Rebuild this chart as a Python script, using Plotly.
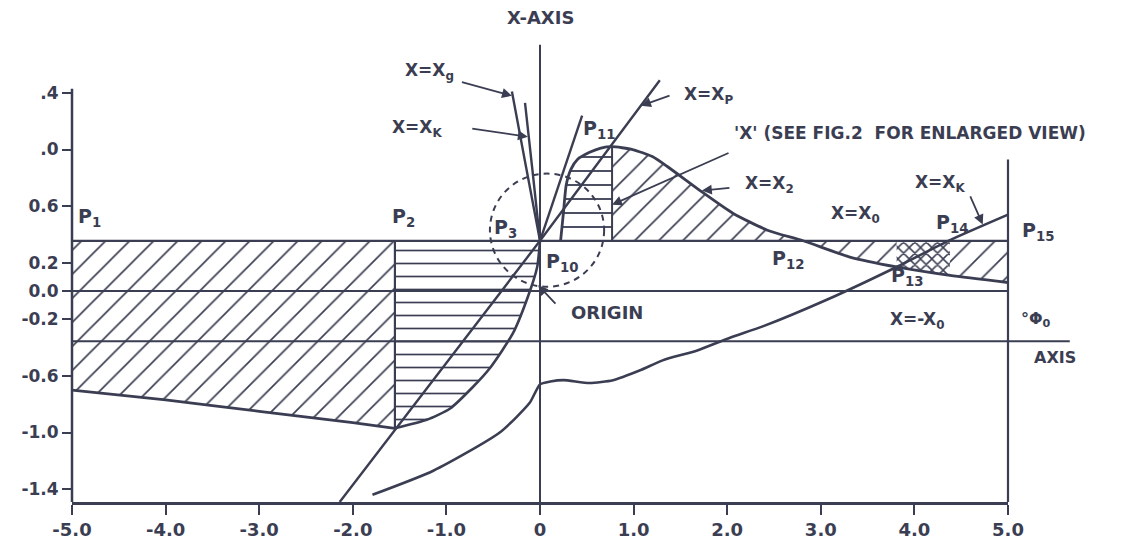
import plotly.graph_objects as go

INK = "#3b3e52"
FONT = "DejaVu Sans"

# ---------------- axes / ticks ----------------
x_ticks = [-5, -4, -3, -2, -1, 0, 1, 2, 3, 4, 5]
x_tick_text = ["-5.0", "-4.0", "-3.0", "-2.0", "-1.0", "0", "1.0", "2.0", "3.0", "4.0", "5.0"]
y_ticks = [1.4, 1.0, 0.6, 0.2, 0.0, -0.2, -0.6, -1.0, -1.4]
y_tick_text = [".4", ".0", "0.6", "0.2", "0.0", "-0.2", "-0.6", "-1.0", "-1.4"]
X_RANGE = [-5.0, 5.0]
Y_RANGE = [-1.491, 1.986]
Y_AXIS_TOP = 1.43
X_AXIS_TOP = 1.74
RIGHT_LINE_TOP = 0.93
X0 = 0.355            # levels X = X0 and X = -X0
MINUS_X0_END = 5.66

# ---------------- key abscissae ----------------
P2_X = -1.55
P11_X = 0.77
P12_X = 2.81
P13_X = 3.81
P14_X = 4.38

# P1 -> P2 lower boundary
a_x = [-5.0, -4.0, -3.0, -2.0, -1.55]
a_y = [-0.70, -0.77, -0.85, -0.93, -0.97]

# U curve from P2 (bottom) to P3
u_x = [-1.55, -1.21, -0.96, -0.72, -0.53, -0.29, -0.14, -0.03, 0.0]
u_y = [-0.97, -0.91, -0.83, -0.68, -0.54, -0.30, -0.06, 0.17, 0.355]
# X = Xg and X = Xk
xg_x = [0.0, -0.15, -0.30]
xg_y = [0.355, 0.88, 1.41]
xk_x = [0.0, -0.08, -0.16]
xk_y = [0.355, 0.85, 1.33]
# X = Xp straight line
xp_x = [-2.14, -1.55, 0.0, 1.28]
xp_y = [-1.491, -0.98, 0.355, 1.49]
# ray from P3
ray_x = [0.0, 0.45]
ray_y = [0.355, 1.24]

# bump / X = X2 curve: P10 -> P11 -> P12 -> P13 -> right edge
bump_x = [0.22, 0.25, 0.28, 0.33, 0.40, 0.53, 0.65, 0.77, 0.99, 1.20, 1.36, 1.71, 2.06, 2.43, 2.81, 3.31, 3.81, 4.38, 5.0]
bump_y = [0.355, 0.55, 0.75, 0.86, 0.93, 0.98, 1.01, 1.02, 1.00, 0.95, 0.88, 0.71, 0.55, 0.43, 0.355, 0.24, 0.17, 0.11, 0.06]

# lower curve -> P13 -> P14 -> P15 (X = Xk)
low_x = [-1.79, -1.14, -0.43, -0.11, 0.0, 0.11, 0.25, 0.53, 0.78, 1.07, 1.31, 1.68, 2.03, 2.38, 3.07, 3.81, 4.38, 5.0]
low_y = [-1.44, -1.27, -1.00, -0.79, -0.66, -0.64, -0.63, -0.65, -0.63, -0.56, -0.49, -0.42, -0.33, -0.25, -0.06, 0.17, 0.36, 0.54]

# dashed circle 'X'
circ_x = [-0.535, 0.685]
circ_y = [0.03, 0.83]

fig = go.Figure()


def fill(xs, ys, shape, size, sol):
    fig.add_trace(go.Scatter(
        x=xs, y=ys, mode="lines", fill="toself", line=dict(width=0),
        fillcolor="rgba(0,0,0,0)",
        fillpattern=dict(shape=shape, size=size, solidity=sol, fgcolor=INK,
                         bgcolor="white", fillmode="replace"),
        hoverinfo="skip", showlegend=False))


def line(xs, ys, w=2.5, smooth=False):
    fig.add_trace(go.Scatter(x=xs, y=ys, mode="lines",
                             line=dict(color=INK, width=w,
                                       shape="spline" if smooth else "linear",
                                       smoothing=0.6 if smooth else None),
                             hoverinfo="skip", showlegend=False))


# ---- hatched regions ----
fill([-5.0, P2_X] + a_x[::-1], [X0, X0] + a_y[::-1], "/", 17, 0.1)
fill([P2_X, 0.0] + u_x[::-1], [X0, X0] + u_y[::-1], "-", 13, 0.13)
i11 = bump_x.index(P11_X)
fill(bump_x[:i11 + 1] + [P11_X], bump_y[:i11 + 1] + [X0], "-", 14, 0.13)
i12 = bump_x.index(P12_X)
fill([P11_X] + bump_x[i11:i12 + 1], [X0] + bump_y[i11:i12 + 1], "/", 17, 0.1)
fill(bump_x[i12:] + [5.0], bump_y[i12:] + [X0], "/", 17, 0.1)
i13 = bump_x.index(P13_X)
i14 = bump_x.index(P14_X)
fill(bump_x[i13:i14 + 1] + [P14_X, P13_X], bump_y[i13:i14 + 1] + [X0, X0], "x", 8, 0.34)

# ---- lines ----
line([-5.0, 5.0], [X0, X0], 2.2)
line([-5.0, 5.0], [0.0, 0.0], 2.2)
line([0.0, 0.0], [Y_RANGE[0], X_AXIS_TOP], 2.0)
line(a_x, a_y, 2.8, True)
line([P2_X, P2_X], [a_y[-1], X0], 2.2)
line(u_x, u_y, 2.6, True)
line(xg_x, xg_y, 2.4, True)
line(xk_x, xk_y, 2.4, True)
line(xp_x, xp_y, 2.4)
line(ray_x, ray_y, 2.4)
line([P11_X, P11_X], [X0, bump_y[i11]], 2.0)
line(bump_x, bump_y, 2.8, True)
line(low_x, low_y, 2.6, True)


def px(v):
    """data x -> paper fraction (for items right of the x range)"""
    return (v - X_RANGE[0]) / (X_RANGE[1] - X_RANGE[0])


shapes = [
    dict(type="line", xref="paper", yref="y", x0=0, x1=0, y0=Y_RANGE[0], y1=Y_AXIS_TOP,
         line=dict(color=INK, width=2.5)),
    dict(type="line", xref="paper", yref="y", x0=1, x1=1, y0=Y_RANGE[0], y1=RIGHT_LINE_TOP,
         line=dict(color=INK, width=2.2)),
    dict(type="line", xref="paper", yref="y", x0=0, x1=px(MINUS_X0_END), y0=-X0, y1=-X0,
         line=dict(color=INK, width=2.0)),
    dict(type="circle", xref="x", yref="y", x0=circ_x[0], x1=circ_x[1], y0=circ_y[0], y1=circ_y[1],
         line=dict(color=INK, width=2.0, dash="6px,5px")),
]

ann = []


def text(x, y, t, size=17, paper=False):
    ann.append(dict(x=px(x) if paper else x, y=y, xref="paper" if paper else "x", yref="y",
                    text=t, showarrow=False, xanchor="center", yanchor="middle",
                    font=dict(family=FONT, size=size, color=INK, weight="bold")))


def arrow(hx, hy, tx, ty):
    ann.append(dict(x=hx, y=hy, ax=tx, ay=ty, xref="x", yref="y", axref="x", ayref="y",
                    text="", showarrow=True, arrowhead=2, arrowsize=1.1, arrowwidth=1.8,
                    arrowcolor=INK))


text(0.0, 1.93, "X-AXIS", 18)
text(-1.18, 1.55, "X=X<sub>g</sub>", 17)
text(-1.31, 1.15, "X=X<sub>K</sub>", 17)
text(1.80, 1.385, "X=X<sub>P</sub>", 17)
text(0.63, 1.14, "P<sub>11</sub>", 19)
text(3.95, 1.12, "'X' (SEE FIG.2  FOR ENLARGED VIEW)", 17)
text(2.45, 0.75, "X=X<sub>2</sub>", 17)
text(3.37, 0.54, "X=X<sub>0</sub>", 17)
text(4.27, 0.76, "X=X<sub>K</sub>", 17)
text(-4.81, 0.52, "P<sub>1</sub>", 19)
text(-1.46, 0.52, "P<sub>2</sub>", 19)
text(-0.37, 0.445, "P<sub>3</sub>", 19)
text(0.24, 0.20, "P<sub>10</sub>", 19)
text(2.65, 0.22, "P<sub>12</sub>", 19)
text(3.92, 0.10, "P<sub>13</sub>", 19)
text(4.40, 0.48, "P<sub>14</sub>", 19)
text(5.32, 0.42, "P<sub>15</sub>", 19, paper=True)
text(0.72, -0.155, "ORIGIN", 18)
text(4.03, -0.205, "X=-X<sub>0</sub>", 17)
text(5.30, -0.20, "°Φ<sub>0</sub>", 16, paper=True)
text(5.50, -0.47, "AXIS", 16, paper=True)

arrow(-0.30, 1.38, -0.85, 1.48)
arrow(-0.13, 1.09, -0.74, 1.15)
arrow(1.08, 1.31, 1.40, 1.385)
arrow(0.77, 0.61, 2.03, 0.98)
arrow(1.73, 0.71, 2.04, 0.73)
arrow(4.73, 0.47, 4.59, 0.68)
arrow(-0.02, 0.04, 0.18, -0.10)

# the page body has an 8px margin: shrink the figure and shift margins to compensate
fig.update_layout(
    width=1122, height=532, autosize=False,
    margin=dict(l=64, r=122, t=2, b=38, autoexpand=False),
    paper_bgcolor="white", plot_bgcolor="white",
    shapes=shapes, annotations=ann,
    font=dict(family=FONT, color=INK),
    xaxis=dict(range=X_RANGE, tickvals=x_ticks, ticktext=x_tick_text, showgrid=False,
               zeroline=False, showline=True, linecolor=INK, linewidth=2.5,
               ticks="outside", ticklen=10, tickwidth=2, tickcolor=INK, automargin=False,
               tickfont=dict(family=FONT, size=18, color=INK, weight="bold")),
    yaxis=dict(range=Y_RANGE, tickvals=y_ticks, ticktext=y_tick_text, showgrid=False,
               zeroline=False, showline=False, automargin=False,
               ticks="outside", ticklen=9, tickwidth=2, tickcolor=INK,
               tickfont=dict(family=FONT, size=17, color=INK, weight="bold")),
)

fig.write_html("out.html")
